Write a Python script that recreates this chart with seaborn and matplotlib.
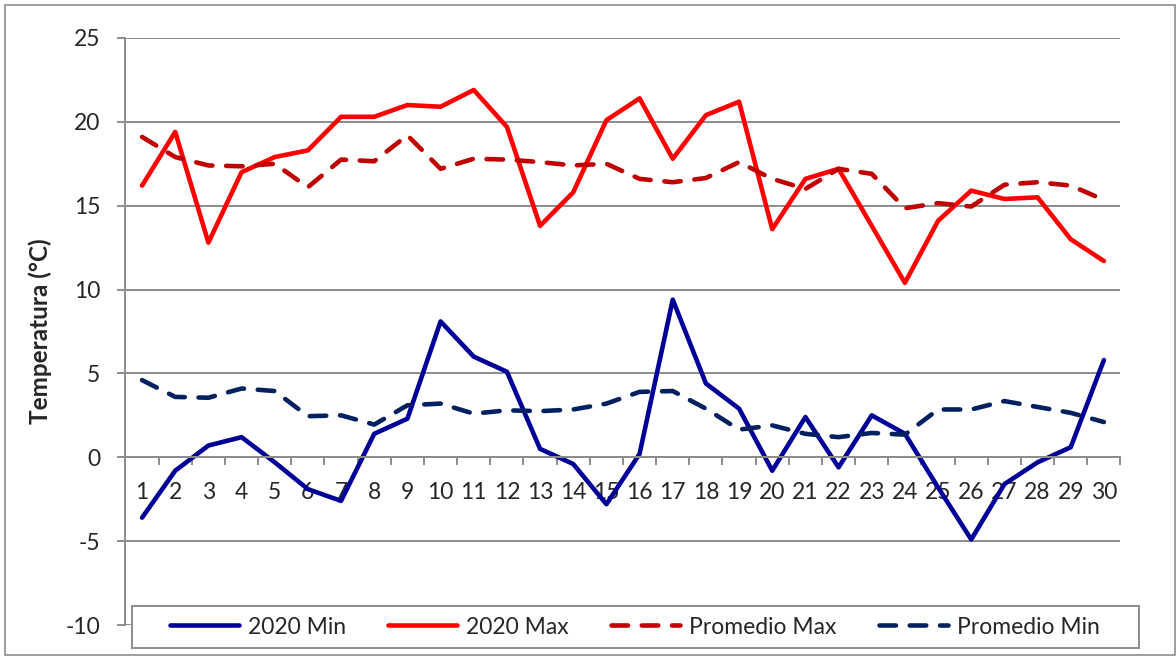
import numpy as np
import pandas as pd
import seaborn as sns
import matplotlib.pyplot as plt
from matplotlib.patches import Rectangle
from matplotlib.ticker import MultipleLocator

# Datos
dias = list(range(1, 31))
min_2020 = [-3.6, -0.8, 0.7, 1.2, -0.3, -1.9, -2.6, 1.4, 2.3, 8.1,
            6.0, 5.1, 0.5, -0.4, -2.8, 0.2, 9.4, 4.4, 2.9, -0.8,
            2.4, -0.6, 2.5, 1.4, -1.8, -4.9, -1.6, -0.3, 0.6, 5.8]
max_2020 = [16.2, 19.4, 12.8, 17.0, 17.9, 18.3, 20.3, 20.3, 21.0, 20.9,
            21.9, 19.7, 13.8, 15.8, 20.1, 21.4, 17.8, 20.4, 21.2, 13.6,
            16.6, 17.2, 13.8, 10.4, 14.1, 15.9, 15.4, 15.5, 13.0, 11.7]
prom_max = [19.1, 17.9, 17.4, 17.35, 17.5, 16.1, 17.75, 17.65, 19.2, 17.2,
            17.8, 17.75, 17.6, 17.4, 17.5, 16.6, 16.4, 16.65, 17.6, 16.6,
            16.0, 17.2, 16.9, 14.85, 15.15, 14.95, 16.25, 16.4, 16.2, 15.35]
prom_min = [4.6, 3.6, 3.55, 4.1, 3.95, 2.45, 2.5, 1.95, 3.1, 3.2,
            2.6, 2.8, 2.75, 2.85, 3.2, 3.9, 3.95, 2.9, 1.65, 1.9,
            1.4, 1.2, 1.45, 1.35, 2.85, 2.85, 3.35, 3.0, 2.65, 2.1]

sns.set_style('white')
plt.rcParams['font.family'] = ['Lato', 'DejaVu Sans']
plt.rcParams['axes.unicode_minus'] = False

fig = plt.figure(figsize=(11.76, 6.57), dpi=100)
ax = fig.add_axes([0.1067, 0.0487, 0.8461, 0.8935])

series = [
    ('2020 Min', min_2020, '#000099', ''),
    ('2020 Max', max_2020, '#FF0000', ''),
    ('Promedio Max', prom_max, '#C00000', (3.6, 3.0)),
    ('Promedio Min', prom_min, '#002060', (3.6, 3.0)),
]
for name, vals, color, dash in series:
    df = pd.DataFrame({'dia': dias, 'temp': vals})
    sns.lineplot(data=df, x='dia', y='temp', ax=ax, color=color,
                 linewidth=3.3, label=name)
    ln = ax.lines[-1]
    if dash:
        ln.set_dashes(dash)
        ln.set_dash_capstyle('round')

gris = '#8C8C8C'
fs = 16.5
ax.set_xlim(0.5, 30.5)
ax.set_ylim(-10, 25)
ax.yaxis.set_major_locator(MultipleLocator(5))
ax.grid(axis='y', color=gris, linewidth=1.4)
ax.grid(axis='x', visible=False)

for s in ['top', 'right']:
    ax.spines[s].set_visible(False)
ax.spines['left'].set_color(gris)
ax.spines['left'].set_linewidth(1.4)
ax.spines['bottom'].set_position(('data', 0))
ax.spines['bottom'].set_color(gris)
ax.spines['bottom'].set_linewidth(1.4)

ax.set_xticks(dias)
ax.set_xticks(np.arange(0.5, 31, 1), minor=True)
ax.tick_params(axis='x', which='major', length=0, pad=18, labelsize=fs)
ax.tick_params(axis='x', which='minor', bottom=True, length=6, width=1.4,
               color=gris, direction='out')
ax.tick_params(axis='y', left=True, length=6, width=1.4, color=gris,
               pad=12, labelsize=fs)

ax.set_xlabel('')
ax.set_ylabel('Temperatura (°C)', fontsize=17.5, fontweight='bold')
ax.yaxis.set_label_coords(-0.074, 0.5)

ax.get_legend().remove()
handles, labels = ax.get_legend_handles_labels()
leg = fig.legend(handles, labels, loc='center left', ncol=4,
                 bbox_to_anchor=(170 / 1176, 1 - 627 / 657), fontsize=fs,
                 frameon=False, handlelength=3.0, handletextpad=0.4,
                 columnspacing=1.85, borderpad=0, borderaxespad=0)
for h in leg.get_lines():
    h.set_solid_capstyle('round')
    h.set_dash_capstyle('round')

# marco de la leyenda y del area del grafico
fig.patches.append(Rectangle((132 / 1176, 1 - 648 / 657), 1007 / 1176, 42 / 657,
                             transform=fig.transFigure, facecolor='white',
                             edgecolor=gris, linewidth=1.4, zorder=3))
fig.patches.append(Rectangle((0.004, 0.003), 0.995, 0.99, transform=fig.transFigure,
                             fill=False, edgecolor=gris, linewidth=1.2))

fig.savefig('out.png', dpi=100)
